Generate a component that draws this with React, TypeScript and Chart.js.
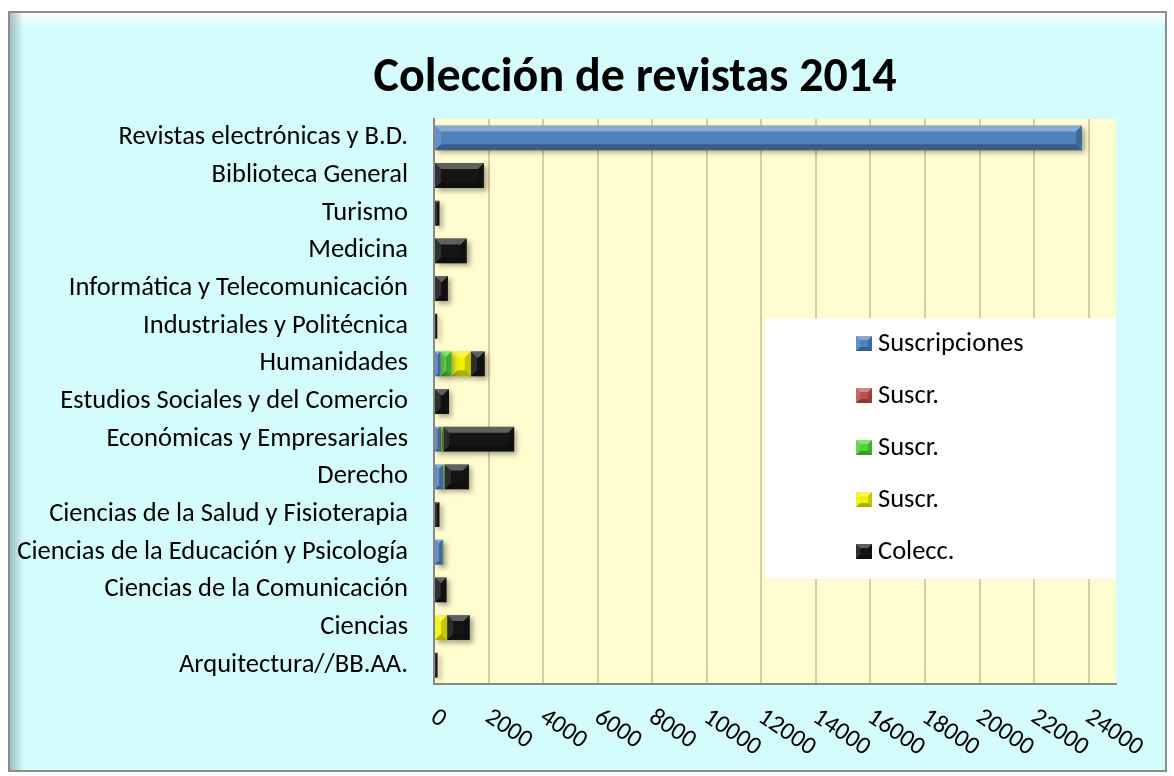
import React, { useEffect, useRef } from 'react';
import { Chart, registerables } from 'chart.js';

Chart.register(...registerables);

const titleText = 'Colección de revistas 2014';

const categories = [
  'Revistas electrónicas y B.D.',
  'Biblioteca General',
  'Turismo',
  'Medicina',
  'Informática y Telecomunicación',
  'Industriales y Politécnica',
  'Humanidades',
  'Estudios Sociales y del Comercio',
  'Económicas y Empresariales',
  'Derecho',
  'Ciencias de la Salud y Fisioterapia',
  'Ciencias de la Educación y Psicología',
  'Ciencias de la Comunicación',
  'Ciencias',
  'Arquitectura//BB.AA.',
];

const suscripciones = [23750, 0, 0, 0, 0, 0, 245, 0, 220, 340, 0, 320, 0, 0, 0];
const suscrRojo = [0, 0, 0, 0, 0, 0, 0, 0, 40, 0, 0, 0, 0, 0, 0];
const suscrVerde = [0, 0, 0, 0, 0, 0, 400, 20, 80, 50, 0, 20, 0, 0, 0];
const suscrAmarillo = [0, 0, 0, 0, 0, 0, 705, 0, 0, 0, 0, 0, 0, 480, 0];
const colecc = [0, 1830, 200, 1200, 510, 120, 510, 530, 2600, 890, 200, 0, 460, 830, 130];

const seriesLabels = ['Suscripciones', 'Suscr.', 'Suscr.', 'Suscr.', 'Colecc.'];
const seriesColors = ['#4F81BD', '#C0504D', '#52D437', '#F2F200', '#151515'];

const xTickValues = [0, 2000, 4000, 6000, 8000, 10000, 12000, 14000, 16000, 18000, 20000, 22000, 24000];
const xTickLabels = ['0', '2000', '4000', '6000', '8000', '10000', '12000', '14000', '16000', '18000', '20000', '22000', '24000'];

const FONT = 'Carlito, Lato, sans-serif';

function bevel(ctx: CanvasRenderingContext2D, l: number, t: number, r: number, b: number, size: number) {
  const w = r - l;
  const h = b - t;
  const s = Math.min(size, w / 2, h / 2);
  if (w <= 0 || h <= 0) return;
  const poly = (pts: number[][], fill: string) => {
    ctx.beginPath();
    ctx.moveTo(pts[0][0], pts[0][1]);
    for (let i = 1; i < pts.length; i++) ctx.lineTo(pts[i][0], pts[i][1]);
    ctx.closePath();
    ctx.fillStyle = fill;
    ctx.fill();
  };
  poly([[l, t], [r, t], [r - s, t + s], [l + s, t + s]], 'rgba(255,255,255,0.32)');
  poly([[l, b], [r, b], [r - s, b - s], [l + s, b - s]], 'rgba(0,0,0,0.28)');
  poly([[l, t], [l + s, t + s], [l + s, b - s], [l, b]], 'rgba(255,255,255,0.12)');
  poly([[r, t], [r - s, t + s], [r - s, b - s], [r, b]], 'rgba(0,0,0,0.18)');
}

const decorPlugin = {
  id: 'decor',
  beforeDraw(chart: any) {
    const { ctx, width, height, chartArea } = chart;
    ctx.save();
    ctx.fillStyle = '#FFFFFF';
    ctx.fillRect(0, 0, width, height);
    // outer frame
    ctx.fillStyle = '#D5FCFC';
    ctx.fillRect(9, 12, width - 17, height - 17);
    const gTop = ctx.createLinearGradient(0, 13, 0, 28);
    gTop.addColorStop(0, 'rgba(255,255,255,0.95)');
    gTop.addColorStop(1, 'rgba(255,255,255,0)');
    ctx.fillStyle = gTop;
    ctx.fillRect(10, 13, width - 19, 15);
    const gLeft = ctx.createLinearGradient(10, 0, 24, 0);
    gLeft.addColorStop(0, 'rgba(120,150,150,0.6)');
    gLeft.addColorStop(1, 'rgba(120,150,150,0)');
    ctx.fillStyle = gLeft;
    ctx.fillRect(10, 13, 14, height - 19);
    ctx.strokeStyle = '#8C8C8C';
    ctx.lineWidth = 2;
    ctx.strokeRect(9, 12, width - 17, height - 17);
    // plot area
    ctx.fillStyle = '#FFFCD0';
    ctx.fillRect(chartArea.left, chartArea.top, chartArea.right - chartArea.left, chartArea.bottom - chartArea.top);
    // title
    ctx.fillStyle = '#000000';
    ctx.font = `bold 48px ${FONT}`;
    ctx.textAlign = 'center';
    ctx.textBaseline = 'middle';
    ctx.fillText(titleText, 635, 79);
    ctx.restore();
  },
  beforeDatasetsDraw(chart: any) {
    const ctx = chart.ctx;
    ctx.save();
    ctx.shadowColor = 'rgba(0,0,0,0.35)';
    ctx.shadowBlur = 5;
    ctx.shadowOffsetX = 3;
    ctx.shadowOffsetY = 3;
  },
  afterDatasetsDraw(chart: any) {
    const ctx = chart.ctx;
    ctx.restore();
    ctx.save();
    chart.data.datasets.forEach((_ds: any, i: number) => {
      const meta = chart.getDatasetMeta(i);
      meta.data.forEach((el: any) => {
        const l = Math.min(el.x, el.base);
        const r = Math.max(el.x, el.base);
        const t = el.y - el.height / 2;
        const b = el.y + el.height / 2;
        if (r - l < 0.5) return;
        bevel(ctx, l, t, r, b, 6);
      });
    });
    ctx.restore();
  },
  afterDraw(chart: any) {
    const { ctx, scales } = chart;
    const xs = scales.x;
    ctx.save();
    // x tick labels, rotated clockwise
    ctx.fillStyle = '#000000';
    ctx.font = `25px ${FONT}`;
    ctx.textAlign = 'left';
    ctx.textBaseline = 'middle';
    xTickValues.forEach((v, idx) => {
      const px = xs.getPixelForValue(v);
      ctx.save();
      ctx.translate(px - 1, chart.chartArea.bottom + 31);
      ctx.rotate((34 * Math.PI) / 180);
      ctx.fillText(xTickLabels[idx], 0, 0);
      ctx.restore();
    });
    // legend box
    const lx = chart.chartArea.right - 351;
    const ly = 318;
    ctx.fillStyle = '#FFFFFF';
    ctx.fillRect(lx, ly, 351, 261);
    ctx.font = `26.5px ${FONT}`;
    chart.data.datasets.forEach((ds: any, i: number) => {
      const cy = ly + 25.5 + i * 52;
      const sx = lx + 91;
      ctx.fillStyle = ds.backgroundColor;
      ctx.fillRect(sx, cy - 7.5, 16, 15);
      bevel(ctx, sx, cy - 7.5, sx + 16, cy + 7.5, 4);
      ctx.fillStyle = '#000000';
      ctx.textAlign = 'left';
      ctx.textBaseline = 'middle';
      ctx.fillText(ds.label, sx + 22, cy + 1);
    });
    ctx.restore();
  },
};

export default function App() {
  const canvasRef = useRef<HTMLCanvasElement | null>(null);

  useEffect(() => {
    if (!canvasRef.current) return;
    const seriesData = [suscripciones, suscrRojo, suscrVerde, suscrAmarillo, colecc];
    const chart = new Chart(canvasRef.current, {
      type: 'bar',
      data: {
        labels: categories,
        datasets: seriesData.map((d, i) => ({
          label: seriesLabels[i],
          data: d,
          backgroundColor: seriesColors[i],
          borderWidth: 0,
          barPercentage: 0.66,
          categoryPercentage: 1,
        })),
      },
      options: {
        indexAxis: 'y',
        responsive: false,
        animation: false,
        events: [],
        layout: { padding: { left: 0, top: 119, right: 58, bottom: 0 } },
        plugins: {
          legend: { display: false },
          title: { display: false },
          tooltip: { enabled: false },
        },
        scales: {
          x: {
            type: 'linear',
            stacked: true,
            min: 0,
            max: 25000,
            ticks: { stepSize: 2000, display: false, autoSkip: false },
            afterBuildTicks: (s: any) => {
              s.ticks = xTickValues.map((v) => ({ value: v }));
            },
            grid: {
              drawTicks: false,
              lineWidth: 2,
              color: '#DCCBA8',
            },
            border: { display: true, color: '#888888', width: 2 },
            afterFit: (s: any) => {
              s.height = 92;
            },
          },
          y: {
            stacked: true,
            grid: { display: false, drawTicks: false },
            border: { display: true, color: '#888888', width: 2 },
            ticks: { color: '#000000', font: { family: FONT, size: 26.5 }, padding: 26 },
            afterFit: (s: any) => {
              s.width = 434;
            },
          },
        },
      },
      plugins: [decorPlugin],
    });
    return () => chart.destroy();
  }, []);

  return (
    <div style={{ position: 'absolute', left: 0, top: 0, width: 1174, height: 776 }}>
      <canvas ref={canvasRef} width={1174} height={776} />
    </div>
  );
}
